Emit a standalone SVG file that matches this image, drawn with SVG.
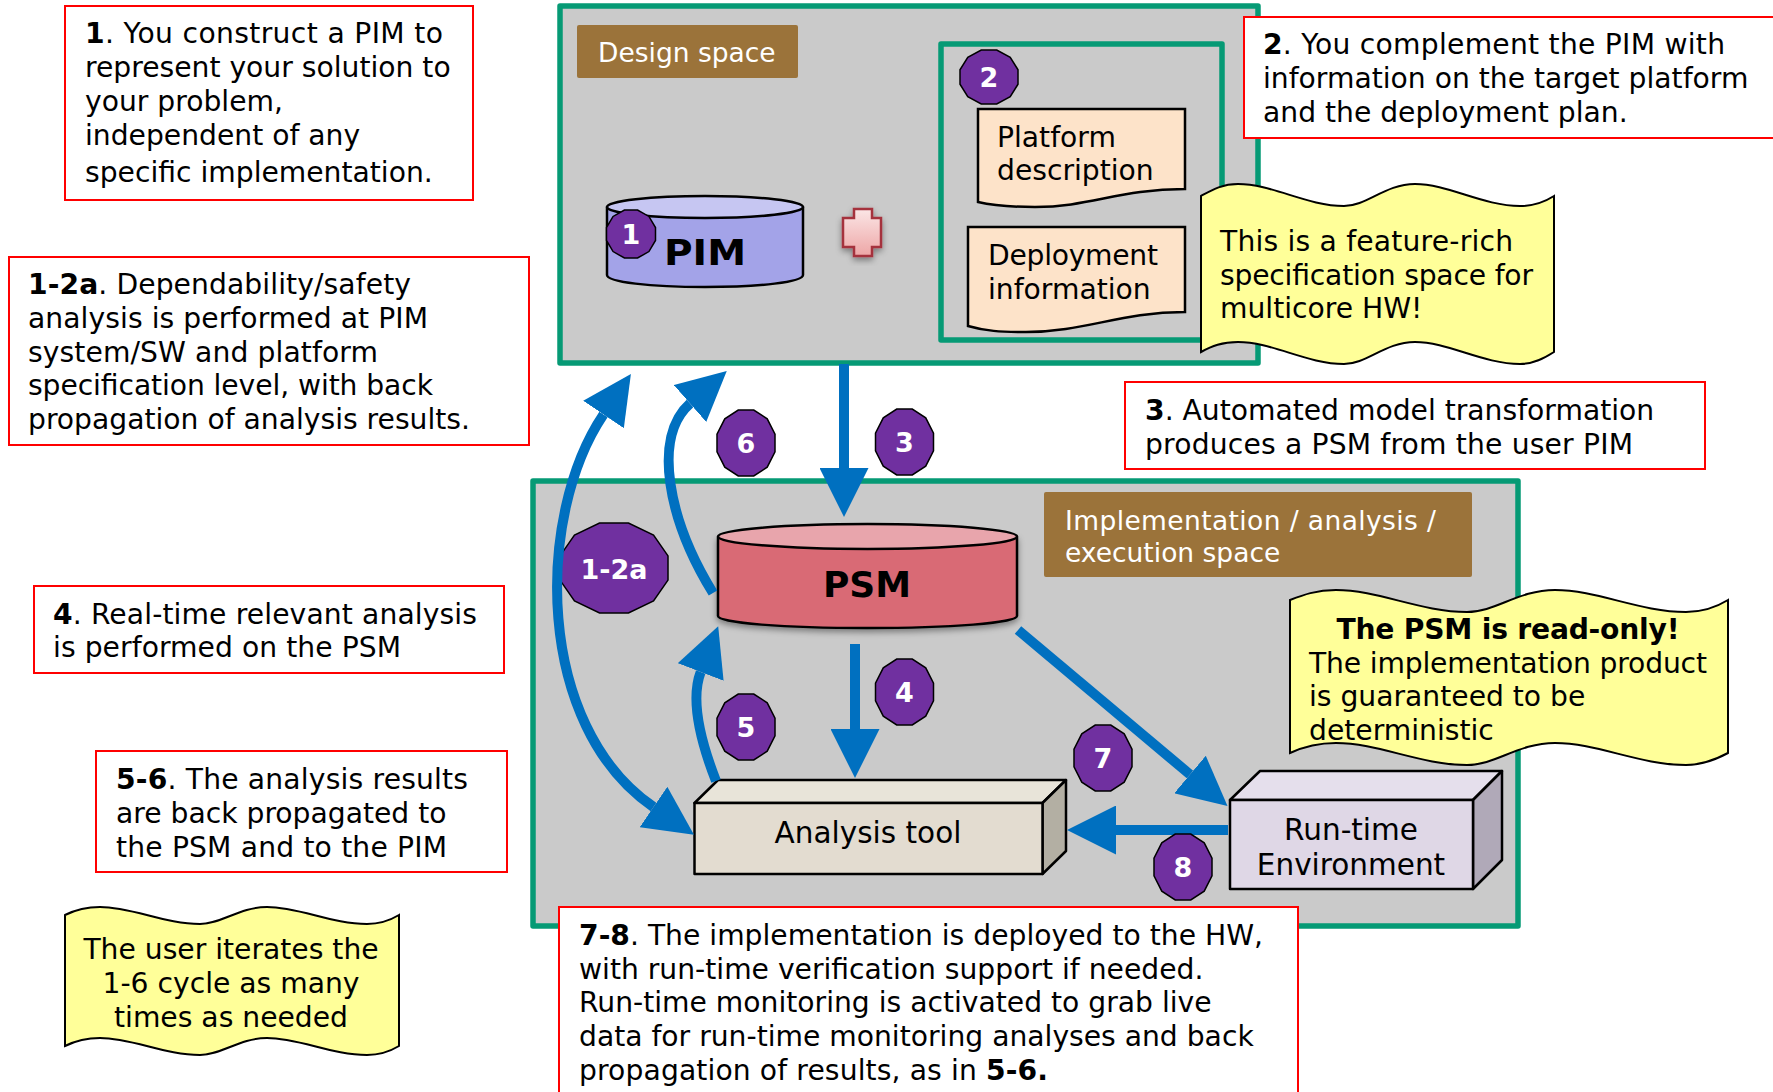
<svg xmlns="http://www.w3.org/2000/svg" width="1773" height="1092" viewBox="0 0 1773 1092">
<style>
text{font-family:"DejaVu Sans",Verdana,sans-serif;font-size:28.2px;fill:#000}
.b{font-weight:bold}
.m{text-anchor:middle}
.w{fill:#fff;font-size:26.500px}
.lg{font-size:29.500px}
.big{font-size:36px;font-weight:bold;text-anchor:middle}
.num{font-size:27px;font-weight:bold;fill:#fff;text-anchor:middle}
.call{fill:#fff;stroke:#f00;stroke-width:2}
.space{fill:#cacaca;stroke:#069a75;stroke-width:5.5;stroke-linejoin:round}
.inner{fill:none;stroke:#069a75;stroke-width:5.5;stroke-linejoin:round}
.label{fill:#9b733a}
.note{fill:#ffff99;stroke:#000;stroke-width:2}
.doc{fill:#fde3c9;stroke:#000;stroke-width:2.5}
.line{stroke:#000;stroke-width:2.5;stroke-linejoin:round}
.badge{fill:#7030a0;stroke:#000;stroke-width:1.5}
#dodec{vector-effect:non-scaling-stroke}
.arrow{fill:none;stroke:#0070c0;stroke-width:10}
</style>
<defs>
<polygon id="dodec" points="-.268,-1 .268,-1 .732,-.732 1,-.268 1,.268 .732,.732 .268,1 -.268,1 -.732,.732 -1,.268 -1,-.268 -.732,-.732"/>
<marker id="head" viewBox="0 0 49 49" markerUnits="userSpaceOnUse" markerWidth="49" markerHeight="49" refX="0" refY="24.5" orient="auto-start-reverse"><path d="M0,0 L49,24.5 L0,49 Z" fill="#0070c0"/></marker>
<linearGradient id="cross" x1="0" y1="0" x2="0" y2="1"><stop offset="0" stop-color="#fbe6e6"/><stop offset="1" stop-color="#eda6a6"/></linearGradient>
<filter id="shadow" x="-20%" y="-20%" width="140%" height="140%"><feDropShadow dx="0" dy="3" stdDeviation="3" flood-color="#000" flood-opacity=".4"/></filter>
</defs>

<g id="design-space">
<rect class="space" x="560" y="6" width="698" height="357"/>
<rect class="label" x="577" y="25" width="221" height="53" rx="2"/>
<text class="w" x="598" y="62">Design space</text>
</g>
<g id="platform-group"><rect class="inner" x="941" y="44" width="281" height="296"/></g>
<g id="platform-description">
<path class="doc" d="M978,109 H1185 V189 C1120,189 1090,207 1035,207 C1010,207 995,206 978,202 Z"/>
<text x="997" y="147">Platform</text><text x="997" y="180">description</text>
</g>
<g id="deployment-information">
<path class="doc" d="M968,227 H1185 V312 C1120,312 1085,332 1026,332 C1000,332 985,331 968,326 Z"/>
<text x="988" y="265" textLength="170">Deployment</text><text x="988" y="299">information</text>
</g>
<g id="pim">
<path class="line" fill="#a3a3e8" d="M607,207 V275 C607,282 650,287 705,287 C760,287 803,282 803,275 V207 Z"/>
<ellipse class="line" fill="#c6c6f2" cx="705" cy="207" rx="98" ry="11"/>
<text class="big" x="705" y="265" textLength="82" lengthAdjust="spacingAndGlyphs">PIM</text>
</g>
<g id="plus">
<path filter="url(#shadow)" fill="url(#cross)" stroke="#a5303c" stroke-width="2.5" d="M854,209 H872 V218 H881 V247 H872 V256 H854 V247 H843 V218 H854 Z"/>
</g>

<g id="impl-space">
<rect class="space" x="533" y="481" width="985" height="445"/>
<rect class="label" x="1044" y="492" width="428" height="85" rx="2"/>
<text class="w" x="1065" y="530" textLength="371">Implementation / analysis /</text>
<text class="w" x="1065" y="562">execution space</text>
</g>
<g id="psm">
<path filter="url(#shadow)" class="line" fill="#d96a75" d="M718,537 V616 C718,623 785,628 867,628 C950,628 1017,623 1017,616 V537 Z"/>
<ellipse class="line" fill="#e8a5ac" cx="867.500" cy="536.500" rx="149.500" ry="12.500"/>
<text class="big" x="867" y="597">PSM</text>
</g>
<g id="analysis-tool">
<polygon class="line" fill="#e8e4d9" points="694.500,803 718,780 1066,780 1042.500,803"/>
<polygon class="line" fill="#b3afa3" points="1042.500,803 1066,780 1066,851 1042.500,874"/>
<rect class="line" fill="#e3dcd0" x="694.500" y="803" width="348" height="71"/>
<text class="m lg" x="868" y="843">Analysis tool</text>
</g>
<g id="runtime">
<polygon class="line" fill="#e5dfec" points="1230,800 1260,771 1502,771 1473,800"/>
<polygon class="line" fill="#b0a9b8" points="1473,800 1502,771 1502,860 1473,889"/>
<rect class="line" fill="#dfd7e6" x="1230" y="800" width="243" height="89"/>
<text class="m lg" x="1351" y="840">Run-time</text><text class="m lg" x="1351" y="875">Environment</text>
</g>
<g id="badge-1-2a"><use href="#dodec" class="badge" transform="translate(614,568) scale(54,45)"/><text class="num" x="614" y="579">1-2a</text></g>

<g id="connectors">
<path class="arrow" marker-end="url(#head)" d="M844,364 L844,468"/>
<path class="arrow" marker-end="url(#head)" d="M855,644 L855,729"/>
<path class="arrow" marker-end="url(#head)" d="M716,781 C700,740 690,700 700.700,672"/>
<path class="arrow" marker-end="url(#head)" d="M713,593 C668,520 652,437 690,403.500"/>
<path class="arrow" marker-start="url(#head)" marker-end="url(#head)" d="M603.500,414.500 C535,516 535,726 653.500,807"/>
<path class="arrow" marker-end="url(#head)" d="M1018,630 L1190,774.500"/>
<path class="arrow" marker-end="url(#head)" d="M1228,830 L1116,830"/>
</g>

<g id="badge-1"><use href="#dodec" class="badge" transform="translate(631,234) scale(24.500,24)"/><text class="num" x="631" y="244">1</text></g>
<g id="badge-2"><use href="#dodec" class="badge" transform="translate(989,77) scale(29,27)"/><text class="num" x="989" y="87">2</text></g>
<g id="badge-3"><use href="#dodec" class="badge" transform="translate(904.500,442) scale(29,33)"/><text class="num" x="904.500" y="452">3</text></g>
<g id="badge-4"><use href="#dodec" class="badge" transform="translate(904.500,692) scale(29,33)"/><text class="num" x="904.500" y="702">4</text></g>
<g id="badge-5"><use href="#dodec" class="badge" transform="translate(746,727) scale(29,33)"/><text class="num" x="746" y="737">5</text></g>
<g id="badge-6"><use href="#dodec" class="badge" transform="translate(746,443) scale(29,33)"/><text class="num" x="746" y="453">6</text></g>
<g id="badge-7"><use href="#dodec" class="badge" transform="translate(1103,758) scale(29,33)"/><text class="num" x="1103" y="768">7</text></g>
<g id="badge-8"><use href="#dodec" class="badge" transform="translate(1183,867) scale(29,33)"/><text class="num" x="1183" y="877">8</text></g>

<g id="callout-1">
<rect class="call" x="65" y="6" width="408" height="194"/>
<text x="85" y="43" textLength="358"><tspan class="b">1</tspan>. You construct a PIM to</text>
<text x="85" y="77">represent your solution to</text>
<text x="85" y="111">your problem,</text>
<text x="85" y="145">independent of any</text>
<text x="85" y="182">specific implementation.</text>
</g>
<g id="callout-2">
<rect class="call" x="1244" y="17" width="540" height="121"/>
<text x="1263" y="54" textLength="462"><tspan class="b">2</tspan>. You complement the PIM with</text>
<text x="1263" y="88">information on the target platform</text>
<text x="1263" y="122">and the deployment plan.</text>
</g>
<g id="note-feature">
<path class="note" d="M1201,196 C1212,190 1222,184 1238,184 C1272,184 1307,206 1344,206 C1367,206 1385,184 1415,184 C1448,184 1483,206 1520,206 C1533,206 1543,203 1554,196 V352 C1543,359 1533,364 1520,364 C1483,364 1448,342 1415,342 C1385,342 1367,364 1344,364 C1307,364 1272,342 1238,342 C1222,342 1212,346 1201,352 Z"/>
<text x="1220" y="251" textLength="293">This is a feature-rich</text>
<text x="1220" y="285" textLength="313">specification space for</text>
<text x="1220" y="318">multicore HW!</text>
</g>
<g id="callout-1-2a">
<rect class="call" x="9" y="257" width="520" height="188"/>
<text x="28" y="294" textLength="383"><tspan class="b">1-2a</tspan>. Dependability/safety</text>
<text x="28" y="328" textLength="400">analysis is performed at PIM</text>
<text x="28" y="362" textLength="350">system/SW and platform</text>
<text x="28" y="395" textLength="405">specification level, with back</text>
<text x="28" y="429">propagation of analysis results.</text>
</g>
<g id="callout-3">
<rect class="call" x="1125" y="382" width="580" height="87"/>
<text x="1145" y="420"><tspan class="b">3</tspan>. Automated model transformation</text>
<text x="1145" y="454" textLength="488">produces a PSM from the user PIM</text>
</g>
<g id="callout-4">
<rect class="call" x="34" y="586" width="470" height="87"/>
<text x="53" y="624" textLength="424"><tspan class="b">4</tspan>. Real-time relevant analysis</text>
<text x="53" y="657" textLength="348">is performed on the PSM</text>
</g>
<g id="callout-5-6">
<rect class="call" x="96" y="751" width="411" height="121"/>
<text x="116" y="789" textLength="352"><tspan class="b">5-6</tspan>. The analysis results</text>
<text x="116" y="823">are back propagated to</text>
<text x="116" y="857" textLength="331">the PSM and to the PIM</text>
</g>
<g id="note-psm">
<path class="note" d="M1290,600 C1303,595 1316,590 1336,590 C1378,590 1421,612 1467,612 C1496,612 1518,590 1555,590 C1597,590 1640,612 1686,612 C1702,612 1715,608 1728,600 V753 C1715,760 1702,765 1686,765 C1640,765 1597,743 1555,743 C1518,743 1496,765 1467,765 C1421,765 1378,743 1336,743 C1316,743 1303,747 1290,753 Z"/>
<text class="b m" x="1508" y="639" textLength="343">The PSM is read-only!</text>
<text x="1309" y="673" textLength="398">The implementation product</text>
<text x="1309" y="706">is guaranteed to be</text>
<text x="1309" y="740">deterministic</text>
</g>
<g id="callout-7-8">
<rect class="call" x="559" y="907" width="739" height="200"/>
<text x="579" y="945" textLength="684"><tspan class="b">7-8</tspan>. The implementation is deployed to the HW,</text>
<text x="579" y="979">with run-time verification support if needed.</text>
<text x="579" y="1012">Run-time monitoring is activated to grab live</text>
<text x="579" y="1046">data for run-time monitoring analyses and back</text>
<text x="579" y="1080" textLength="469">propagation of results, as in <tspan class="b">5-6.</tspan></text>
</g>
<g id="note-iterate">
<path class="note" d="M65,915 C75,910 85,907 100,907 C132,907 165,924 200,924 C222,924 239,907 267,907 C299,907 332,924 367,924 C379,924 389,921 399,915 V1046 C389,1052 379,1055 367,1055 C332,1055 299,1038 267,1038 C239,1038 222,1055 200,1055 C165,1055 132,1038 100,1038 C85,1038 75,1041 65,1046 Z"/>
<text class="m" x="231" y="959">The user iterates the</text>
<text class="m" x="231" y="993">1-6 cycle as many</text>
<text class="m" x="231" y="1027">times as needed</text>
</g>
</svg>
